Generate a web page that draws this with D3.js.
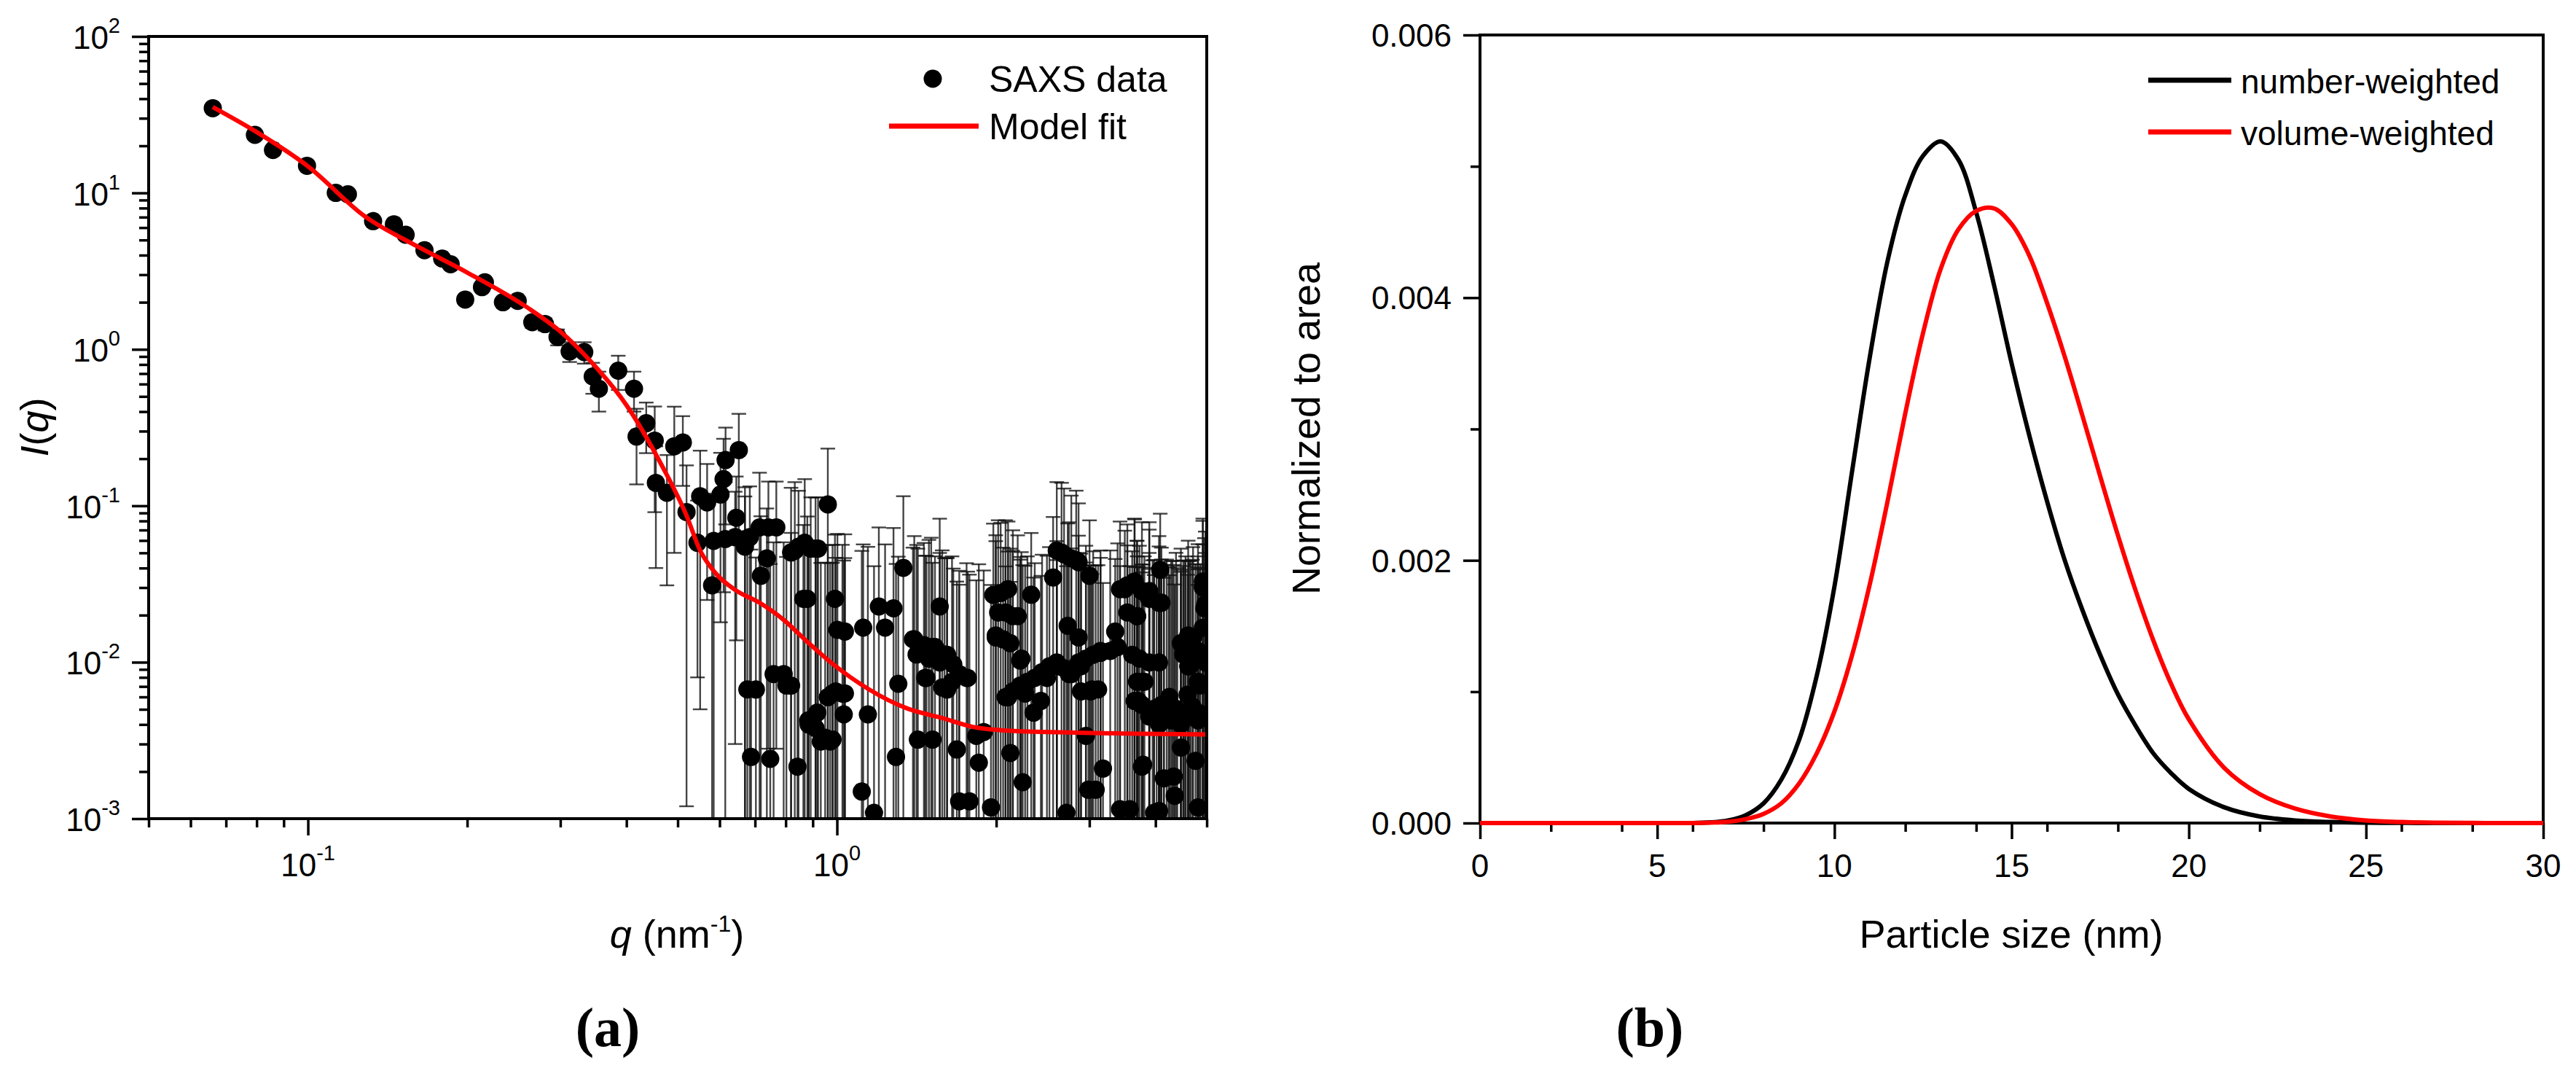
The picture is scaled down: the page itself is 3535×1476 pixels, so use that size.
<!DOCTYPE html>
<html lang="en">
<head>
<meta charset="UTF-8">
<title>SAXS fit and particle size distribution</title>
<script src="https://d3js.org/d3.v7.min.js"></script>
<style>
  body { margin: 0; background: #fff; }
  svg text { font-family: "Liberation Sans", Arial, sans-serif; fill: #000; }
  .tick line { stroke: #000; stroke-width: 3.5px; }
</style>
</head>
<body>
<div id="container"></div>
<script>
// (a) SAXS curve: q (nm^-1), I(q) and its error
var saxsQ = [0.0661, 0.0794, 0.0859, 0.0996, 0.1129, 0.1190, 0.1328, 0.1454, 0.1530, 0.1661,
  0.1794, 0.1861, 0.1983, 0.2133, 0.2160, 0.2337, 0.2492, 0.2655, 0.2806, 0.2964,
  0.3124, 0.3329, 0.3454, 0.3548, 0.3860, 0.4134, 0.4180, 0.4360, 0.4524, 0.4547,
  0.4771, 0.4926, 0.5113, 0.5196, 0.5449, 0.5513, 0.5683, 0.5807, 0.5848, 0.6024,
  0.6105, 0.6158, 0.6420, 0.6453, 0.6524, 0.6700, 0.6843, 0.6880, 0.7027, 0.7180,
  0.7370, 0.7420, 0.7480, 0.7590, 0.7680, 0.8025, 0.8323, 0.8420, 0.8690, 0.8790,
  0.8840, 0.9110, 0.9180, 0.9320, 0.9610, 0.9913, 0.9950, 1.002, 1.024, 1.030,
  1.114, 1.121, 1.144, 1.175, 1.200, 1.233, 1.279, 1.293, 1.306, 1.335,
  1.400, 1.414, 1.422, 1.476, 1.507, 1.516, 1.564, 1.597, 1.615, 1.659,
  1.685, 1.702, 1.767, 1.780, 1.834, 1.854, 1.894, 1.955, 1.996, 2.039,
  2.083, 2.105, 2.127, 2.196, 2.232, 2.244, 2.268, 2.329, 2.353, 2.429,
  2.494, 2.562, 2.603, 2.658, 2.730, 2.745, 2.833, 2.862, 2.892, 2.955,
  3.002, 3.034, 3.083, 3.149, 3.183, 3.285, 3.357, 3.500, 3.577, 3.651,
  3.691, 3.711, 3.771, 3.791, 3.894, 3.950, 4.020, 4.063, 4.083, 4.105,
  4.149, 4.200, 4.250, 4.307, 4.330, 4.350, 4.400, 4.468, 4.515, 4.550,
  4.560, 4.600, 4.637, 4.700, 4.711, 4.762, 4.810, 4.812, 4.850, 4.863,
  4.915, 4.950, 4.980,
  0.615, 0.670, 0.677, 0.714, 0.793, 0.819, 0.819, 0.846, 0.864, 0.883,
  0.892, 0.911, 0.921, 0.950, 0.961, 0.971, 0.981, 0.981, 1.035, 1.035,
  1.392, 1.460, 1.468, 1.492, 1.532, 1.564, 1.581, 1.615, 1.650, 1.703,
  1.758, 1.975, 1.996, 2.017, 2.061, 2.083, 2.106, 2.127, 2.150, 2.150,
  2.220, 2.220, 2.291, 2.365, 2.442, 2.521, 2.603, 2.603, 2.687, 2.687,
  2.715, 2.773, 2.773, 2.862, 2.862, 2.893, 2.955, 2.987, 3.018, 3.050,
  3.116, 3.149, 3.392, 3.428, 3.428, 3.539, 3.539, 3.615, 3.653, 3.653,
  3.692, 3.692, 3.731, 3.771, 3.771, 3.771, 3.812, 3.893, 3.893, 3.893,
  3.976, 3.976, 4.062, 4.062, 4.062, 4.105, 4.149, 4.237, 4.282, 4.374,
  4.468, 4.468, 4.515, 4.612, 4.612, 4.662, 4.813, 4.813, 4.813, 4.916,
  4.916, 4.968, 4.968];
var saxsI = [34.8, 23.5, 18.8, 14.9, 10.0, 9.8, 6.6, 6.3, 5.4, 4.3,
  3.8, 3.5, 2.08, 2.5, 2.68, 2.0, 2.04, 1.49, 1.45, 1.20,
  0.97, 0.96, 0.67, 0.56, 0.73, 0.56, 0.277, 0.337, 0.261, 0.140,
  0.121, 0.240, 0.254, 0.0912, 0.058, 0.115, 0.105, 0.031, 0.0596, 0.118,
  0.148, 0.196, 0.063, 0.0838, 0.227, 0.0547, 0.063, 0.00248, 0.00669, 0.0357,
  0.0461, 0.0728, 0.00241, 0.0084, 0.0728, 0.0071, 0.0516, 0.00215, 0.058, 0.0254,
  0.0040, 0.0532, 0.00476, 0.00311, 0.102, 0.0254, 0.0065, 0.0161, 0.0063, 0.00464,
  0.00149, 0.01663, 0.00464, 0.00109, 0.0227, 0.01663, 0.0221, 0.00248, 0.00728, 0.0401,
  0.0140, 0.0112, 0.0032, 0.00793, 0.0125, 0.0032, 0.0227, 0.0112, 0.00669, 0.00968,
  0.00277, 0.00129, 0.00793, 0.00129, 0.00338, 0.00228, 0.00358, 0.00118, 0.01483, 0.0277,
  0.0208, 0.00597, 0.00263, 0.0197, 0.01054, 0.00171, 0.0063, 0.0270, 0.00476, 0.00565,
  0.00793, 0.0348, 0.00942, 0.0502, 0.0171, 0.0084, 0.0449, 0.0144, 0.00942, 0.00338,
  0.0357, 0.00669, 0.00153, 0.01148, 0.00209, 0.0118, 0.0157, 0.0293, 0.00115, 0.0328,
  0.0197, 0.00565, 0.0075, 0.00221, 0.0285, 0.0048, 0.0051, 0.00112, 0.0390, 0.0240,
  0.00464, 0.0053, 0.0060, 0.00449, 0.00186, 0.0014, 0.0049, 0.00285, 0.0112, 0.0045,
  0.0125, 0.0062, 0.00942, 0.0052, 0.0144, 0.00234, 0.0105, 0.00118, 0.0047, 0.0071,
  0.0301, 0.0221, 0.0044,
  0.0613, 0.0613, 0.0067, 0.0727, 0.0084, 0.00709, 0.0503, 0.0547, 0.0254, 0.00425,
  0.0532, 0.00379, 0.0532, 0.00329, 0.00598, 0.00311, 0.00632, 0.0032, 0.0157, 0.00632,
  0.01401, 0.01286, 0.00794, 0.01054, 0.0125, 0.00996, 0.00689, 0.01116, 0.0075, 0.0084,
  0.00794, 0.0269, 0.0144, 0.0208, 0.0140, 0.00598, 0.0293, 0.01323, 0.00651, 0.0197,
  0.00709, 0.01025, 0.0075, 0.00794, 0.00865, 0.00941, 0.00996, 0.0517, 0.00915, 0.0489,
  0.00109, 0.0084, 0.0461, 0.00996, 0.0436, 0.00651, 0.01054, 0.00153, 0.00651, 0.01116,
  0.0067, 0.0118, 0.0125, 0.0293, 0.00115, 0.0310, 0.0208, 0.01116, 0.0319, 0.00565,
  0.0197, 0.0075, 0.01054, 0.0285, 0.00533, 0.00215, 0.0075, 0.0254, 0.00996, 0.0045,
  0.00504, 0.00109, 0.0240, 0.00996, 0.00402, 0.00533, 0.00181, 0.00565, 0.00425, 0.00504,
  0.01323, 0.00402, 0.00476, 0.01483, 0.00941, 0.0045, 0.0118, 0.0075, 0.00425, 0.0166,
  0.0328, 0.00996, 0.0234];
var saxsErr = [1.0, 0.8, 0.6, 0.5, 0.35, 0.35, 0.25, 0.25, 0.2, 0.18,
  0.16, 0.15, 0.1, 0.12, 0.12, 0.1, 0.12, 0.12, 0.13, 0.14,
  0.14, 0.15, 0.15, 0.16, 0.18, 0.16, 0.14, 0.12, 0.17, 0.10,
  0.09, 0.19, 0.12, 0.09, 0.05, 0.11, 0.08, 0.03, 0.06, 0.10,
  0.12, 0.12, 0.06, 0.07, 0.16, 0.06, 0.07, 0.05, 0.04, 0.05,
  0.05, 0.07, 0.04, 0.05, 0.07, 0.04, 0.09, 0.05, 0.09, 0.06,
  0.05, 0.06, 0.05, 0.04, 0.13, 0.04, 0.04, 0.05, 0.05, 0.04,
  0.05, 0.04, 0.05, 0.04, 0.05, 0.04, 0.05, 0.04, 0.04, 0.075,
  0.05, 0.045, 0.05, 0.04, 0.05, 0.04, 0.06, 0.035, 0.04, 0.03,
  0.03, 0.03, 0.03, 0.035, 0.03, 0.04, 0.035, 0.03, 0.05, 0.05,
  0.06, 0.045, 0.03, 0.045, 0.04, 0.04, 0.035, 0.04, 0.03, 0.03,
  0.04, 0.05, 0.05, 0.09, 0.06, 0.07, 0.08, 0.05, 0.04, 0.04,
  0.045, 0.03, 0.04, 0.035, 0.03, 0.04, 0.03, 0.04, 0.04, 0.05,
  0.04, 0.035, 0.03, 0.04, 0.05, 0.04, 0.035, 0.035, 0.05, 0.03,
  0.03, 0.04, 0.03, 0.04, 0.04, 0.03, 0.035, 0.035, 0.03, 0.04,
  0.035, 0.03, 0.035, 0.04, 0.04, 0.04, 0.03, 0.03, 0.035, 0.035,
  0.05, 0.04, 0.03,
  0.08, 0.07, 0.05, 0.09, 0.05, 0.06, 0.08, 0.07, 0.05, 0.05,
  0.06, 0.05, 0.06, 0.04, 0.05, 0.04, 0.05, 0.04, 0.05, 0.04,
  0.04, 0.045, 0.04, 0.05, 0.035, 0.04, 0.045, 0.035, 0.04, 0.03,
  0.035, 0.05, 0.045, 0.06, 0.04, 0.035, 0.05, 0.04, 0.045, 0.05,
  0.04, 0.035, 0.04, 0.035, 0.04, 0.045, 0.035, 0.09, 0.04, 0.08,
  0.04, 0.045, 0.07, 0.04, 0.06, 0.035, 0.045, 0.04, 0.035, 0.04,
  0.035, 0.04, 0.045, 0.05, 0.04, 0.045, 0.035, 0.04, 0.05, 0.035,
  0.04, 0.04, 0.045, 0.05, 0.035, 0.04, 0.04, 0.045, 0.04, 0.035,
  0.04, 0.035, 0.04, 0.045, 0.035, 0.04, 0.04, 0.035, 0.04, 0.045,
  0.04, 0.035, 0.04, 0.045, 0.035, 0.04, 0.045, 0.04, 0.035, 0.04,
  0.05, 0.04, 0.045];
var fitQ = [0.0661, 0.08, 0.1, 0.128, 0.16, 0.2, 0.26, 0.30, 0.34, 0.40, 0.467, 0.52, 0.551,
  0.59, 0.642, 0.714, 0.794, 0.879, 0.98, 1.15, 1.35, 1.58, 1.85, 2.3, 2.83, 3.5, 5.0];
var fitI = [35.4, 24.5, 14.8, 7.1, 4.6, 3.1, 1.85, 1.30, 0.86, 0.44, 0.18, 0.086, 0.052,
  0.037, 0.029, 0.024, 0.0186, 0.0135, 0.0098, 0.0067, 0.0051, 0.0044, 0.0038, 0.0036, 0.00355, 0.0035, 0.00345];

// (b) size distributions normalized to area
var sizeNm = [0, 1, 2, 3, 4, 5, 6, 6.5, 7, 7.5, 8, 8.5, 9, 9.5, 10, 10.5, 11, 11.5, 12, 12.5,
  13, 13.5, 14, 14.5, 15, 15.5, 16, 16.5, 17, 17.5, 18, 18.5, 19, 19.5, 20, 21, 22, 23,
  24, 25, 26, 27, 28, 29, 30];
var numberWeighted = [0, 0, 0, 0, 0, 0, 0, 0.000005, 0.00002, 0.00006, 0.00015, 0.00033, 0.00063,
  0.00112, 0.00180, 0.00268, 0.00355, 0.00428, 0.00478, 0.00508, 0.00519, 0.00505, 0.00465,
  0.00410, 0.00350, 0.00295, 0.00245, 0.00200, 0.00162, 0.00128, 0.00098, 0.00074, 0.00053,
  0.00038, 0.00026, 0.00012, 0.00005, 0.00002, 0.000008, 0.000003, 0.000001, 0, 0, 0, 0];
var volumeWeighted = [0, 0, 0, 0, 0, 0, 0, 0.000003, 0.00001, 0.00003, 0.00007, 0.00015, 0.00030,
  0.00053, 0.00085, 0.00128, 0.00182, 0.00245, 0.00312, 0.00373, 0.00422, 0.00452, 0.00466,
  0.00468, 0.00456, 0.00432, 0.00396, 0.00355, 0.00310, 0.00264, 0.00219, 0.00177, 0.00139,
  0.00106, 0.00079, 0.00042, 0.00022, 0.00011, 0.00005, 0.00002, 0.000008, 0.000003, 0.000001, 0, 0];

// tick labels
var qMajor = [0.1, 1], qExp = ["-1", "0"];
var iMajor = [1e-3, 1e-2, 1e-1, 1, 10, 100], iExp = ["-3", "-2", "-1", "0", "1", "2"];
var sizeTicks = [0, 5, 10, 15, 20, 25, 30];
var areaTicks = [0, 0.002, 0.004, 0.006];

var saxs = saxsQ.map(function (q, i) { return { q: q, I: saxsI[i], err: saxsErr[i] }; });
var fit = fitQ.map(function (q, i) { return { q: q, I: fitI[i] }; });
var nw = sizeNm.map(function (s, i) { return { s: s, v: numberWeighted[i] }; });
var vw = sizeNm.map(function (s, i) { return { s: s, v: volumeWeighted[i] }; });

var svg = d3.select("#container").append("svg")
  .attr("width", 3535).attr("height", 1476);

// ---------- panel (a) ----------
var xL = d3.scaleLog().domain([0.05, 5]).range([204, 1656]);
var yL = d3.scaleLog().domain([1e-3, 1e2]).range([1123, 50]);

svg.append("clipPath").attr("id", "clipA").append("rect")
  .attr("x", 204).attr("y", 50).attr("width", 1452).attr("height", 1073);

var qMinor = xL.ticks().filter(function (d) { return qMajor.indexOf(d) < 0; });
var iMinor = yL.ticks().filter(function (d) { return iMajor.indexOf(d) < 0; });

function bareAxis(axis, transform, values, size) {
  svg.append("g")
    .attr("transform", transform)
    .call(axis.tickValues(values).tickSize(size).tickSizeOuter(0).tickFormat(""))
    .call(function (g) { g.select(".domain").remove(); });
}
bareAxis(d3.axisBottom(xL), "translate(0,1123)", qMajor, 23);
bareAxis(d3.axisBottom(xL), "translate(0,1123)", qMinor, 12);
bareAxis(d3.axisLeft(yL), "translate(204,0)", iMajor, 23);
bareAxis(d3.axisLeft(yL), "translate(204,0)", iMinor, 13);

function powLabel(x, y, exp, anchor) {
  var t = svg.append("text").attr("x", x).attr("y", y)
    .attr("text-anchor", anchor).style("font-size", "44px");
  t.append("tspan").text("10");
  t.append("tspan").attr("dy", -22).style("font-size", "29px").text(exp);
}
qMajor.forEach(function (d, i) { powLabel(xL(d), 1202, qExp[i], "middle"); });
iMajor.forEach(function (d, i) { powLabel(165, yL(d) + 17, iExp[i], "end"); });

var dataA = svg.append("g").attr("clip-path", "url(#clipA)");

// error bars, lower ends below 1e-3 run into the axis
var bars = dataA.append("g")
  .attr("stroke", "#111").attr("stroke-width", 2.4).attr("stroke-opacity", 0.78);
saxs.forEach(function (d) {
  var lo = d.I - d.err, hi = d.I + d.err;
  var yLo = lo > 1e-3 ? yL(lo) : 1130;
  var x = xL(d.q);
  bars.append("line").attr("x1", x).attr("x2", x).attr("y1", yL(hi)).attr("y2", yLo);
  bars.append("line").attr("x1", x - 10).attr("x2", x + 10).attr("y1", yL(hi)).attr("y2", yL(hi));
  if (lo > 1e-3) {
    bars.append("line").attr("x1", x - 10).attr("x2", x + 10).attr("y1", yLo).attr("y2", yLo);
  }
});

dataA.selectAll("circle.pt")
  .data(saxs)
  .enter().append("circle")
  .attr("class", "pt")
  .attr("cx", function (d) { return xL(d.q); })
  .attr("cy", function (d) { return yL(d.I); })
  .attr("r", 12.5)
  .attr("fill", "#000");

dataA.append("path")
  .datum(fit)
  .attr("fill", "none").attr("stroke", "#ff0000").attr("stroke-width", 6)
  .attr("d", d3.line()
    .curve(d3.curveMonotoneX)
    .x(function (d) { return xL(d.q); })
    .y(function (d) { return yL(d.I); }));

// frame
svg.append("rect").attr("x", 204).attr("y", 50).attr("width", 1452).attr("height", 1073)
  .attr("fill", "none").attr("stroke", "#000").attr("stroke-width", 4);

// legend (a)
svg.append("circle").attr("cx", 1280).attr("cy", 108).attr("r", 12.5).attr("fill", "#000");
svg.append("text").attr("x", 1357).attr("y", 126).style("font-size", "50px").text("SAXS data");
svg.append("line").attr("x1", 1220).attr("x2", 1343).attr("y1", 173).attr("y2", 173)
  .attr("stroke", "#ff0000").attr("stroke-width", 7);
svg.append("text").attr("x", 1357).attr("y", 191).style("font-size", "50px").text("Model fit");

// axis titles (a)
var xtA = svg.append("text").attr("x", 929).attr("y", 1300)
  .attr("text-anchor", "middle").style("font-size", "54px");
xtA.append("tspan").style("font-style", "italic").text("q");
xtA.append("tspan").text(" (nm");
xtA.append("tspan").attr("dy", -22).style("font-size", "32px").text("-1");
xtA.append("tspan").attr("dy", 22).text(")");

var ytA = svg.append("text").attr("transform", "translate(66,586) rotate(-90)")
  .attr("text-anchor", "middle").style("font-size", "54px");
ytA.append("tspan").style("font-style", "italic").text("I");
ytA.append("tspan").text("(");
ytA.append("tspan").style("font-style", "italic").text("q");
ytA.append("tspan").text(")");

svg.append("text").attr("x", 834).attr("y", 1435).attr("text-anchor", "middle")
  .style("font-family", "'Liberation Serif', 'DejaVu Serif', serif")
  .style("font-weight", "bold").style("font-size", "76px").text("(a)");

// ---------- panel (b) ----------
var xR = d3.scaleLinear().domain([0, 30]).range([2031, 3490]);
var yR = d3.scaleLinear().domain([0, 0.006]).range([1129, 48]);

var sizeMinor = xR.ticks(12).filter(function (d) { return sizeTicks.indexOf(d) < 0; });
var areaMinor = yR.ticks(6).filter(function (d) { return areaTicks.indexOf(d) < 0; });

bareAxis(d3.axisBottom(xR), "translate(0,1129)", sizeTicks, 22);
bareAxis(d3.axisBottom(xR), "translate(0,1129)", sizeMinor, 12);
bareAxis(d3.axisLeft(yR), "translate(2031,0)", areaTicks, 23);
bareAxis(d3.axisLeft(yR), "translate(2031,0)", areaMinor, 13);

svg.append("g").selectAll("text")
  .data(sizeTicks).enter().append("text")
  .attr("x", function (d) { return xR(d); }).attr("y", 1203)
  .attr("text-anchor", "middle").style("font-size", "44px")
  .text(function (d) { return d; });
svg.append("g").selectAll("text")
  .data(areaTicks).enter().append("text")
  .attr("x", 1992).attr("y", function (d) { return yR(d) + 16; })
  .attr("text-anchor", "end").style("font-size", "44px")
  .text(d3.format(".3f"));

svg.append("rect").attr("x", 2031).attr("y", 48).attr("width", 1459).attr("height", 1081)
  .attr("fill", "none").attr("stroke", "#000").attr("stroke-width", 4);

var distLine = d3.line()
  .curve(d3.curveCatmullRom.alpha(0.5))
  .x(function (d) { return xR(d.s); })
  .y(function (d) { return yR(Math.max(0, d.v)); });

svg.append("path").datum(nw)
  .attr("fill", "none").attr("stroke", "#000").attr("stroke-width", 6).attr("d", distLine);
svg.append("path").datum(vw)
  .attr("fill", "none").attr("stroke", "#ff0000").attr("stroke-width", 6).attr("d", distLine);

// legend (b)
svg.append("line").attr("x1", 2948).attr("x2", 3062).attr("y1", 110).attr("y2", 110)
  .attr("stroke", "#000").attr("stroke-width", 7);
svg.append("text").attr("x", 3075).attr("y", 128).style("font-size", "46px").text("number-weighted");
svg.append("line").attr("x1", 2948).attr("x2", 3062).attr("y1", 181).attr("y2", 181)
  .attr("stroke", "#ff0000").attr("stroke-width", 7);
svg.append("text").attr("x", 3075).attr("y", 199).style("font-size", "46px").text("volume-weighted");

svg.append("text").attr("x", 2760).attr("y", 1300).attr("text-anchor", "middle")
  .style("font-size", "54px").text("Particle size (nm)");
svg.append("text").attr("transform", "translate(1811,588) rotate(-90)")
  .attr("text-anchor", "middle").style("font-size", "54px").text("Normalized to area");

svg.append("text").attr("x", 2264).attr("y", 1435).attr("text-anchor", "middle")
  .style("font-family", "'Liberation Serif', 'DejaVu Serif', serif")
  .style("font-weight", "bold").style("font-size", "76px").text("(b)");
</script>
</body>
</html>
